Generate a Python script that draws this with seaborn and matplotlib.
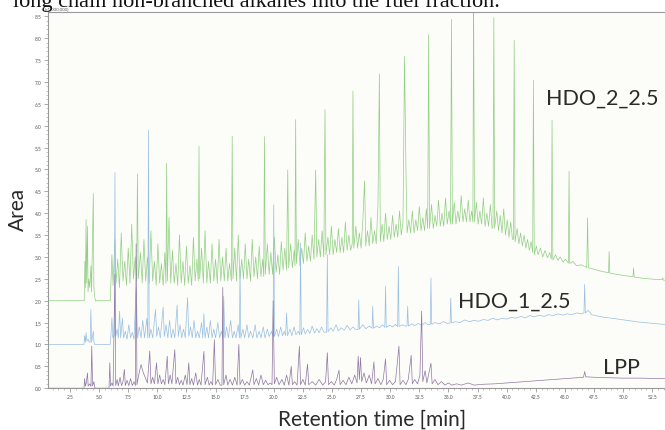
import pandas as pd
import matplotlib.pyplot as plt
import seaborn as sns

green_t = [0.6, 3.65, 3.72, 3.78, 3.82, 3.88, 3.93, 4.0, 4.05, 4.12, 4.2, 4.3, 4.35, 4.5, 4.55, 4.62, 4.68, 5.95,
           6.0, 6.1, 6.2, 6.36, 6.45, 6.6, 6.75, 6.9, 7.05, 7.2, 7.35, 7.5, 7.65, 7.8, 7.95, 8.1, 8.22, 8.29, 8.36,
           8.55, 8.7, 8.85, 9.0, 9.15, 9.3, 9.45, 9.6, 9.75, 9.9, 10.05, 10.2, 10.35, 10.5, 10.65, 10.74, 10.8, 10.86,
           11.0, 11.15, 11.3, 11.45, 11.6, 11.75, 11.9, 12.05, 12.2, 12.35, 12.5, 12.65, 12.8, 12.95, 13.1, 13.25,
           13.4, 13.52, 13.58, 13.64, 13.8, 13.95, 14.1, 14.25, 14.4, 14.55, 14.7, 14.85, 15.0, 15.15, 15.3, 15.45,
           15.6, 15.75, 15.9, 16.05, 16.2, 16.36, 16.43, 16.5, 16.65, 16.8, 16.95, 17.1, 17.25, 17.4, 17.55, 17.7,
           17.85, 18.0, 18.15, 18.3, 18.45, 18.6, 18.75, 18.9, 19.05, 19.14, 19.2, 19.27, 19.45, 19.6, 19.75, 19.9,
           20.05, 20.2, 20.35, 20.5, 20.65, 20.8, 20.95, 21.1, 21.2, 21.28, 21.45, 21.6, 21.75, 21.82, 21.88, 21.94,
           22.1, 22.25, 22.4, 22.55, 22.7, 22.85, 23.0, 23.15, 23.3, 23.45, 23.6, 23.7, 23.85, 24.0, 24.15, 24.3,
           24.4, 24.48, 24.65, 24.8, 24.95, 25.1, 25.25, 25.4, 25.55, 25.7, 25.85, 26.0, 26.15, 26.3, 26.45, 26.6,
           26.74, 26.8, 26.87, 27.05, 27.2, 27.35, 27.5, 27.65, 27.8, 27.9, 28.05, 28.2, 28.35, 28.5, 28.65, 28.8,
           28.95, 29.07, 29.15, 29.3, 29.45, 29.6, 29.75, 29.9, 30.05, 30.2, 30.35, 30.5, 30.65, 30.8, 30.95, 31.1,
           31.23, 31.35, 31.45, 31.6, 31.75, 31.9, 32.05, 32.2, 32.35, 32.5, 32.65, 32.8, 32.95, 33.1, 33.22, 33.3,
           33.38, 33.55, 33.7, 33.85, 34.0, 34.15, 34.3, 34.45, 34.6, 34.75, 34.9, 35.05, 35.18, 35.26, 35.34, 35.5,
           35.65, 35.8, 35.95, 36.1, 36.25, 36.4, 36.55, 36.7, 36.85, 37.0, 37.1, 37.16, 37.24, 37.4, 37.55, 37.7,
           37.85, 38.0, 38.15, 38.3, 38.45, 38.6, 38.75, 38.83, 38.9, 38.97, 39.15, 39.3, 39.45, 39.6, 39.75, 39.9,
           40.05, 40.2, 40.35, 40.5, 40.58, 40.65, 40.72, 40.9, 41.05, 41.2, 41.35, 41.5, 41.65, 41.8, 41.95, 42.1,
           42.24, 42.3, 42.37, 42.55, 42.7, 42.9, 43.1, 43.3, 43.5, 43.7, 43.84, 43.9, 43.97, 44.2, 44.4, 44.6,
           44.85, 45.05, 45.3, 45.36, 45.42, 45.7, 46.0, 46.4, 46.88, 46.95, 47.02, 47.5, 48.0, 48.75, 48.8, 48.86,
           49.5, 50.2, 50.85, 50.9, 50.96, 51.8, 52.6, 53.35, 53.4, 53.46, 54.0]
green_v = [2.0, 2.0, 2.0, 2.9, 2.3, 3.85, 2.4, 3.7, 2.2, 2.5, 2.3, 2.8, 2.2, 4.45, 2.3, 2.1, 2.0, 2.0,
           2.3, 3.05, 2.35, 3.4, 2.4, 2.95, 2.3, 3.55, 2.45, 2.9, 2.35, 3.2, 2.4, 3.75, 2.5, 3.0, 2.45, 4.9, 2.5,
           3.1, 2.4, 3.4, 2.45, 3.0, 2.4, 3.6, 2.45, 2.9, 2.35, 3.3, 2.4, 2.85, 2.35, 3.1, 2.4, 5.14, 2.45,
           3.9, 2.4, 3.15, 2.4, 2.85, 2.35, 3.5, 2.4, 2.9, 2.35, 3.25, 2.4, 2.8, 2.35, 3.45, 2.45,
           2.95, 2.45, 5.53, 2.5, 3.2, 2.4, 3.6, 2.4, 2.9, 2.4, 3.3, 2.45, 2.95, 2.4, 3.4, 2.45,
           3.0, 2.45, 3.2, 2.45, 2.85, 2.45, 5.76, 2.5, 3.2, 2.45, 3.5, 2.5, 2.95, 2.5, 3.3, 2.5,
           2.95, 2.45, 3.4, 2.55, 3.0, 2.5, 3.25, 2.55, 2.95, 2.55, 5.75, 2.6, 3.3, 2.6, 3.1, 2.6,
           3.45, 2.65, 3.05, 2.6, 3.35, 2.7, 3.2, 2.7, 4.99, 2.75, 3.3, 2.75, 3.15, 2.8, 6.14, 2.85,
           3.4, 2.8, 3.2, 2.85, 3.55, 2.9, 3.25, 2.9, 3.5, 2.95, 4.99, 3.0, 3.4, 3.0, 3.6, 3.0,
           6.37, 3.05, 3.45, 3.05, 3.7, 3.05, 3.4, 3.1, 3.65, 3.1, 3.45, 3.1, 3.8, 3.15, 3.5, 3.15,
           3.3, 6.79, 3.2, 3.7, 3.2, 3.55, 3.2, 3.85, 4.74, 3.25, 3.6, 3.25, 3.9, 3.3, 3.6, 3.3,
           4.2, 7.18, 3.35, 3.75, 3.35, 4.0, 3.4, 3.7, 3.4, 3.95, 3.45, 3.75, 3.45, 4.05, 3.5, 3.8,
           7.58, 5.03, 3.55, 3.85, 3.55, 4.05, 3.55, 3.85, 3.6, 4.15, 3.6, 3.9, 3.6, 4.1, 3.65, 8.08,
           3.65, 4.2, 3.65, 3.95, 3.7, 4.3, 3.7, 4.0, 3.7, 4.35, 3.75, 4.05, 3.75, 8.43, 3.75, 4.25,
           3.75, 4.05, 3.8, 4.4, 3.8, 4.1, 3.8, 4.3, 3.8, 4.05, 3.8, 8.9, 3.8, 4.25, 3.75, 4.05,
           3.75, 4.35, 3.7, 4.0, 3.7, 4.2, 3.65, 3.7, 8.47, 3.65, 4.05, 3.6, 3.95, 3.55, 4.1, 3.5,
           3.85, 3.45, 3.8, 3.4, 3.4, 7.95, 3.35, 3.65, 3.3, 3.55, 3.25, 3.5, 3.2, 3.4, 3.15, 3.35,
           3.1, 7.04, 3.05, 3.25, 3.05, 3.2, 3.0, 3.15, 2.98, 3.1, 2.95, 6.13, 2.93, 3.05, 2.92, 3.0,
           2.88, 2.95, 2.86, 4.96, 2.85, 2.9, 2.8, 2.82, 2.76, 3.89, 2.75, 2.72, 2.68, 2.64, 3.12, 2.63,
           2.6, 2.57, 2.55, 2.75, 2.54, 2.51, 2.49, 2.48, 2.52, 2.47, 2.46]

blue_t = [0.6, 3.7, 3.76, 3.82, 3.88, 3.95, 4.05, 4.15, 4.23, 4.29, 4.36, 4.5, 4.56, 4.62, 5.95,
          6.0, 6.1, 6.18, 6.3, 6.36, 6.42, 6.55, 6.65, 6.76, 6.85, 7.0, 7.1, 7.25, 7.4, 7.55, 7.7, 7.85, 8.0,
          8.18, 8.3, 8.45, 8.6, 8.75, 8.9, 9.1, 9.18, 9.24, 9.3, 9.45, 9.6, 9.84, 9.95, 10.1, 10.25, 10.5, 10.6,
          10.75, 10.9, 11.05, 11.2, 11.35, 11.5, 11.7, 11.8, 11.95, 12.1, 12.25, 12.4, 12.6, 12.7, 12.85, 13.0,
          13.15, 13.3, 13.45, 13.6, 13.8, 13.9, 14.0, 14.1, 14.25, 14.4, 14.55, 14.7, 14.85, 15.0, 15.2, 15.35,
          15.5, 15.62, 15.7, 15.8, 15.95, 16.1, 16.3, 16.45, 16.6, 16.75, 16.95, 17.05, 17.1, 17.17, 17.35, 17.5,
          17.7, 17.85, 18.0, 18.2, 18.4, 18.55, 18.75, 18.9, 19.1, 19.25, 19.45, 19.6, 19.8, 19.94, 20.0, 20.06,
          20.25, 20.4, 20.6, 20.75, 20.9, 21.02, 21.1, 21.18, 21.4, 21.55, 21.75, 21.9, 22.1, 22.24, 22.3, 22.36,
          22.55, 22.7, 22.9, 23.1, 23.3, 23.5, 23.7, 23.9, 24.1, 24.3, 24.54, 24.6, 24.66, 24.9, 25.1, 25.35,
          25.55, 25.8, 26.05, 26.3, 26.55, 26.8, 27.05, 27.24, 27.3, 27.36, 27.65, 27.9, 28.2, 28.44, 28.5, 28.56,
          28.85, 29.1, 29.35, 29.54, 29.6, 29.66, 29.95, 30.2, 30.45, 30.64, 30.7, 30.76, 31.05, 31.3, 31.44, 31.5,
          31.56, 31.85, 32.1, 32.4, 32.7, 33.0, 33.25, 33.44, 33.5, 33.56, 33.85, 34.2, 34.55, 34.9, 35.14, 35.2,
          35.26, 35.6, 36.0, 36.4, 36.8, 37.2, 37.6, 38.0, 38.4, 38.8, 39.2, 39.6, 40.0, 40.4, 40.8, 41.2, 41.6,
          42.0, 42.4, 42.8, 43.2, 43.6, 44.0, 44.4, 44.8, 45.2, 45.6, 46.0, 46.4, 46.64, 46.7, 46.76, 47.0, 47.3,
          47.8, 48.4, 49.0, 49.8, 50.6, 51.4, 52.2, 53.0, 54.0]
blue_v = [1.0, 1.0, 1.2, 1.05, 1.27, 1.08, 1.12, 1.05, 1.05, 1.8, 1.05, 1.3, 1.05, 1.0, 1.0,
          1.15, 1.61, 1.15, 1.2, 4.93, 1.18, 1.35, 1.15, 1.76, 1.15, 1.6, 1.15, 1.3, 1.12, 1.45, 1.15, 1.28, 1.12,
          2.3, 1.15, 1.4, 1.15, 1.55, 1.15, 1.6, 1.15, 5.9, 1.15, 1.35, 1.15, 1.8, 1.18, 1.4, 1.15, 1.85, 1.18,
          1.45, 1.15, 1.55, 1.15, 1.35, 1.15, 1.9, 1.18, 1.45, 1.15, 1.35, 1.15, 2.07, 1.18, 1.4, 1.15,
          1.55, 1.15, 1.3, 1.15, 1.5, 1.15, 1.7, 1.15, 1.4, 1.15, 1.55, 1.15, 1.35, 1.15, 1.5, 1.15,
          1.3, 1.15, 2.1, 1.15, 1.4, 1.15, 1.55, 1.15, 1.3, 1.15, 1.45, 1.15, 2.78, 1.15, 1.35, 1.15,
          1.45, 1.15, 1.3, 1.15, 1.45, 1.15, 1.3, 1.15, 1.4, 1.15, 1.35, 1.18, 1.3, 1.18, 4.19, 1.18,
          1.35, 1.18, 1.4, 1.2, 1.3, 1.2, 1.72, 1.2, 1.35, 1.2, 1.4, 1.22, 1.3, 1.22, 3.32, 1.22,
          1.38, 1.24, 1.34, 1.25, 1.42, 1.26, 1.36, 1.27, 1.4, 1.28, 1.28, 3.05, 1.29, 1.38, 1.3, 1.45,
          1.31, 1.38, 1.32, 1.44, 1.33, 1.4, 1.34, 1.34, 2.02, 1.35, 1.45, 1.36, 1.42, 1.37, 1.87, 1.37,
          1.42, 1.38, 1.45, 1.39, 2.33, 1.39, 1.44, 1.4, 1.46, 1.41, 2.78, 1.41, 1.45, 1.42, 1.42, 1.87,
          1.42, 1.47, 1.43, 1.48, 1.44, 1.5, 1.45, 1.46, 2.52, 1.46, 1.5, 1.47, 1.52, 1.48, 1.49, 2.06,
          1.49, 1.52, 1.5, 1.56, 1.52, 1.55, 1.53, 1.57, 1.55, 1.6, 1.56, 1.6, 1.58, 1.62, 1.6, 1.64, 1.61,
          1.66, 1.63, 1.67, 1.64, 1.68, 1.66, 1.7, 1.67, 1.7, 1.68, 1.72, 1.7, 1.72, 2.37, 1.72, 1.78, 1.68,
          1.65, 1.62, 1.6, 1.57, 1.54, 1.51, 1.49, 1.47, 1.45]

lpp_t = [0.6, 3.7, 3.76, 3.82, 3.9, 4.0, 4.06, 4.2, 4.3, 4.37, 4.44, 4.55, 4.62, 4.7, 5.85, 5.92, 5.98,
         6.1, 6.2, 6.36, 6.42, 6.55, 6.65, 6.8, 6.92, 7.05, 7.17, 7.25, 7.4, 7.55, 7.7, 7.85, 8.0, 8.12, 8.18,
         8.25, 8.4, 8.6, 8.8, 9.0, 9.15, 9.35, 9.45, 9.6, 9.75, 9.93, 10.05, 10.2, 10.35, 10.5, 10.65, 10.85,
         10.95, 11.1, 11.25, 11.5, 11.6, 11.75, 11.9, 12.05, 12.2, 12.4, 12.55, 12.7, 12.8, 12.95, 13.1, 13.3,
         13.45, 13.6, 13.75, 14.0, 14.1, 14.3, 14.45, 14.6, 14.75, 14.9, 15.0, 15.2, 15.4, 15.55, 15.62, 15.7,
         15.9, 16.05, 16.25, 16.45, 16.65, 16.85, 17.0, 17.1, 17.3, 17.5, 17.7, 17.9, 18.2, 18.3, 18.5, 18.7,
         18.9, 19.1, 19.3, 19.5, 19.7, 19.85, 19.95, 20.05, 20.25, 20.45, 20.7, 20.9, 21.1, 21.3, 21.5, 21.6,
         21.8, 22.0, 22.2, 22.3, 22.5, 22.7, 22.9, 23.0, 23.3, 23.6, 23.9, 24.2, 24.45, 24.6, 24.7, 24.95,
         25.2, 25.4, 25.6, 25.7, 25.95, 26.2, 26.45, 26.7, 26.95, 27.15, 27.25, 27.35, 27.45, 27.55, 27.75,
         27.95, 28.2, 28.4, 28.6, 28.7, 28.95, 29.2, 29.4, 29.6, 29.7, 29.95, 30.2, 30.45, 30.75, 30.85, 31.1,
         31.35, 31.55, 31.8, 31.9, 32.1, 32.35, 32.55, 32.7, 32.8, 33.0, 33.15, 33.5, 33.6, 33.85, 34.1, 34.4,
         34.7, 35.0, 35.3, 35.7, 36.1, 36.7, 37.2, 38.0, 39.0, 40.0, 41.0, 42.0, 43.0, 44.0, 45.0, 46.0, 46.6,
         46.7, 46.8, 47.5, 48.5, 50.0, 51.5, 53.0, 54.0]
lpp_v = [0.0, 0.0, 0.22, 0.05, 0.12, 0.35, 0.05, 0.1, 0.04, 0.96, 0.05, 0.15, 0.02, 0.0, 0.0, 0.58, 0.05,
         0.12, 0.05, 2.6, 0.06, 0.2, 0.05, 0.25, 0.06, 0.15, 0.43, 0.06, 0.18, 0.06, 0.22, 0.06, 0.15, 0.06, 3.3,
         0.08, 0.3, 0.54, 0.35, 0.22, 0.12, 0.85, 0.1, 0.25, 0.1, 0.58, 0.1, 0.3, 0.1, 0.2, 0.08, 0.73,
         0.1, 0.3, 0.1, 0.88, 0.1, 0.25, 0.08, 0.18, 0.07, 0.3, 0.08, 0.58, 0.08, 0.22, 0.07, 0.35,
         0.07, 0.2, 0.07, 0.84, 0.08, 0.25, 0.07, 0.15, 0.07, 1.11, 0.08, 0.2, 0.07, 0.07, 2.3, 0.08,
         0.3, 0.07, 0.2, 0.07, 0.25, 0.07, 1.0, 0.08, 0.2, 0.07, 0.15, 0.07, 0.42, 0.08, 0.22, 0.07,
         0.3, 0.08, 0.18, 0.08, 0.12, 0.08, 2.0, 0.1, 0.25, 0.08, 0.2, 0.07, 0.3, 0.07, 0.5, 0.08,
         0.15, 0.07, 0.96, 0.08, 0.2, 0.07, 0.55, 0.08, 0.15, 0.07, 0.2, 0.07, 0.15, 0.81, 0.08, 0.15,
         0.07, 0.2, 0.41, 0.08, 0.18, 0.08, 0.25, 0.1, 0.3, 0.12, 0.73, 0.2, 0.7, 0.15, 0.35,
         0.12, 0.3, 0.1, 0.6, 0.1, 0.22, 0.08, 0.2, 0.67, 0.08, 0.18, 0.08, 0.15, 0.96, 0.08, 0.18,
         0.08, 0.2, 0.75, 0.1, 0.2, 0.1, 0.3, 1.76, 0.15, 0.4, 0.12, 0.57, 0.1, 0.2, 0.08, 0.15,
         0.07, 0.12, 0.07, 0.1, 0.07, 0.12, 0.07, 0.09, 0.1, 0.12, 0.14, 0.16, 0.18, 0.2, 0.22, 0.24, 0.25,
         0.38, 0.26, 0.25, 0.24, 0.23, 0.23, 0.22, 0.22]

trace_names = ['HDO_2_2.5', 'HDO_1_2.5', 'LPP']
trace_colors = ['#92cf83', '#98bfe2', '#8f77a3']

df = pd.concat([
    pd.DataFrame({'time': green_t, 'area': green_v, 'trace': trace_names[0]}),
    pd.DataFrame({'time': blue_t, 'area': blue_v, 'trace': trace_names[1]}),
    pd.DataFrame({'time': lpp_t, 'area': lpp_v, 'trace': trace_names[2]}),
], ignore_index=True)

sns.set_theme(style='white')
plt.rcParams['font.family'] = ['Lato', 'DejaVu Sans']

fig = plt.figure(figsize=(6.65, 4.31), dpi=100)
ax = fig.add_axes([0.072, 0.097, 0.935, 0.873])
ax.set_facecolor('#fcfcf9')

sns.lineplot(data=df, x='time', y='area', hue='trace', palette=dict(zip(trace_names, trace_colors)),
             estimator=None, sort=False, lw=0.5, legend=False, ax=ax)

ax.set_xlim(0.6, 54.0)
ax.set_ylim(0.0, 8.6)
ax.set_xticks([2.5 * i for i in range(1, 22)])
ax.set_yticks([0.5 * i for i in range(0, 18)])
ax.set_xticks([0.5 * i for i in range(2, 108)], minor=True)
ax.set_yticks([0.1 * i for i in range(0, 86)], minor=True)
ax.set_xticklabels([f'{2.5 * i:.1f}' for i in range(1, 22)])
ax.set_yticklabels([f'{0.5 * i:.1f}' for i in range(0, 18)])
ax.tick_params(which='major', length=3, width=0.5, color='#888888', labelsize=3.5, labelcolor='#555555', pad=1.5)
ax.tick_params(which='minor', length=1.5, width=0.4, color='#999999')
ax.tick_params(axis='x', bottom=True, which='both')
ax.tick_params(axis='y', left=True, which='both')
for side in ['left', 'bottom', 'top']:
    ax.spines[side].set_color('#999999')
    ax.spines[side].set_linewidth(0.8)
ax.spines['right'].set_visible(False)
ax.set_xlabel('')
ax.set_ylabel('')

ax.text(-0.005, 1.004, '[x1,000,000]', transform=ax.transAxes, fontsize=3.2, color='#555555', va='bottom')

fig.text(0.027, 0.513, 'Area', rotation=90, fontsize=15, color='#2a2a2a', ha='center', va='center')
fig.text(0.56, 0.026, 'Retention time [min]', fontsize=15, color='#2a2a2a', ha='center', va='center')
fig.text(0.905, 0.772, 'HDO_2_2.5', fontsize=15.5, color='#2a2a2a', ha='center', va='center')
fig.text(0.773, 0.30, 'HDO_1_2.5', fontsize=15.5, color='#2a2a2a', ha='center', va='center')
fig.text(0.935, 0.146, 'LPP', fontsize=15.5, color='#2a2a2a', ha='center', va='center')

# caption text of the page above the figure, cut off at the top
fig.text(0.02, 0.995, 'long chain non-branched alkanes into the fuel fraction.', fontsize=16,
         family='Liberation Serif', color='#111111', ha='left', va='center')

fig.savefig('out.png', dpi=100)
